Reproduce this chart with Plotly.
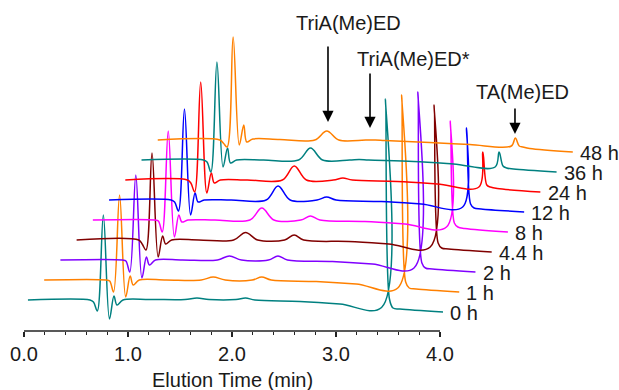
import plotly.graph_objects as go

# Elution time grid (min, per-trace local time) of the key points
TIME_MIN = [0.038, 0.635, 0.668, 0.705, 0.763, 0.822, 0.865, 0.894, 0.952, 1.212,
            1.548, 1.663, 1.779, 2.038, 2.130, 2.221, 2.654, 3.038,
            3.438, 3.476, 3.514, 3.548, 3.615, 4.029]

# Detector signal (arbitrary units) at those times, one list per reaction time
S_0H = [0, 0, -2, -11, 85, -19, 4, -5, 0, 0.5, 0.5, 2, 0.5, 0.5, 2, 0, -1.5, -4, -7.5, 201, 1, -8, -9, -12]
S_1H = [0, 0, -1, -12, 85, -17, 4, -5, 0, 0, 0, 3, 0, 0, 3, 0, -1.5, -4, -8, 185, -2, -8, -9, -12]
S_2H = [0, 0, -1, -12, 85, -18, 3, -5, 0, 0, 0, 4, 0, 0, 4, 0, -1.5, -4, -8, 168, -3, -8, -9, -12]
S_44H = [0, 0, -4, -10, 87, -17, 4, -4, 0, 0, 0, 7.5, 0, 0, 5, 0, -1.5, -4, -7, 135, -3, -8, -9, -12]
S_8H = [0, 0, -1, -12, 89, -17, 5, -2, 0, 0, 0, 12, 0, 0, 4, 0, -1.5, -4, -7, 99, -3, -7, -8.5, -12]
S_12H = [0, 0, -2, -11, 91, -15, 7, -2, 0, 0, 0, 14, 0, 0, 3, 0, -1.5, -4, -7, 72, -4, -8, -9, -12]
S_24H = [0, 0, -3, -12, 98, -13, 7, -3, 0, 0, 0, 14, 0, 0, 2, 0, -1.5, -4, -7, 28, -5, -7, -8.5, -12]
S_36H = [0, 0, -2, -12, 98, -7, 12, -3, 0, 0, 0, 12, 0, 0, 0.5, 0, -1.5, -4, -7, 8, -6, -8, -9, -12]
S_48H = [0, 0, -3, -7, 103, -5, 15, -2, 1, 0.5, 0, 9, 0, 0, 0, -0.5, -2.5, -4.5, -6, 2, -6, -7, -8.5, -12]

SERIES = [S_0H, S_1H, S_2H, S_44H, S_8H, S_12H, S_24H, S_36H, S_48H]
LABELS = ["0 h", "1 h", "2 h", "4.4 h", "8 h", "12 h", "24 h", "36 h", "48 h"]
COLORS = ["#008080", "#FF8000", "#8000FF", "#800000", "#FF00FF",
          "#0000FF", "#FF0000", "#008080", "#FF8000"]

TICK_VALS = [0, 1, 2, 3, 4]
TICK_TEXT = ["0.0", "1.0", "2.0", "3.0", "4.0"]
MINOR_VALS = [0.2, 0.4, 0.6, 0.8, 1.2, 1.4, 1.6, 1.8, 2.2, 2.4, 2.6, 2.8,
              3.2, 3.4, 3.6, 3.8]

PEAK_NAMES = ["TriA(Me)ED", "TriA(Me)ED*", "TA(Me)ED"]

# waterfall offsets
X_OFF = 0.156   # min per trace
Y_OFF = 20      # signal units per trace
BASE = 31

FONT = "Liberation Sans, Arial, sans-serif"
TXT = "#1a1a1a"

fig = go.Figure()
for i, (sig, col) in enumerate(zip(SERIES, COLORS)):
    xs = [t + i * X_OFF for t in TIME_MIN]
    ys = [s + BASE + i * Y_OFF for s in sig]
    fig.add_trace(go.Scatter(x=xs, y=ys, mode="lines",
                             line=dict(color=col, width=1.5, shape="spline", smoothing=1.0),
                             hoverinfo="skip", showlegend=False))

annotations = []
for i, (sig, lab) in enumerate(zip(SERIES, LABELS)):
    annotations.append(dict(
        x=TIME_MIN[-1] + i * X_OFF + 0.05, y=sig[-1] + BASE + i * Y_OFF - 1,
        xref="x", yref="y", text=lab, showarrow=False,
        xanchor="left", yanchor="middle",
        font=dict(family=FONT, size=20, color=TXT)))

# peak name labels with arrows
text_pos = [(3.12, 308), (3.745, 272), (4.798, 239)]
arrow_tip = [(2.923, 209), (3.327, 203), (4.721, 197)]
arrow_len = [-77, -56, -27]
for name, (tx, ty), (ax_, ay_), ln in zip(PEAK_NAMES, text_pos, arrow_tip, arrow_len):
    annotations.append(dict(x=tx, y=ty, xref="x", yref="y", text=name, showarrow=False,
                            xanchor="center", yanchor="middle",
                            font=dict(family=FONT, size=20, color=TXT)))
    annotations.append(dict(x=ax_, y=ay_, xref="x", yref="y", text="", showarrow=True,
                            ax=0, ay=ln, arrowhead=2, arrowsize=1.4, arrowwidth=1.6,
                            arrowcolor="#000000"))

annotations.append(dict(x=2.0, y=-49 / 331, xref="x", yref="paper",
                        text="Elution Time (min)", showarrow=False,
                        xanchor="center", yanchor="middle",
                        font=dict(family=FONT, size=20, color=TXT)))

fig.update_layout(
    width=619, height=390,
    margin=dict(l=0, r=0, t=0, b=59),
    paper_bgcolor="white", plot_bgcolor="white",
    showlegend=False,
    annotations=annotations,
    shapes=[dict(type="line", xref="x", yref="paper", x0=0, x1=4, y0=0, y1=0,
                 line=dict(color="#222222", width=1.3))],
    xaxis=dict(range=[-24 / 104, 595 / 104], showgrid=False, zeroline=False,
               showline=False, tickmode="array", tickvals=TICK_VALS, ticktext=TICK_TEXT,
               ticks="outside", ticklen=5, tickwidth=1.3, tickcolor="#222222",
               tickfont=dict(family=FONT, size=20, color=TXT),
               minor=dict(tickmode="array", tickvals=MINOR_VALS, ticks="outside",
                          ticklen=3, tickwidth=1.2, tickcolor="#222222"),
               fixedrange=True),
    yaxis=dict(range=[0, 331], visible=False, fixedrange=True),
)

fig.write_html("out.html",
               config={"displayModeBar": False, "staticPlot": True},
               post_script="document.body.style.margin='0px';document.body.style.overflow='hidden';")
